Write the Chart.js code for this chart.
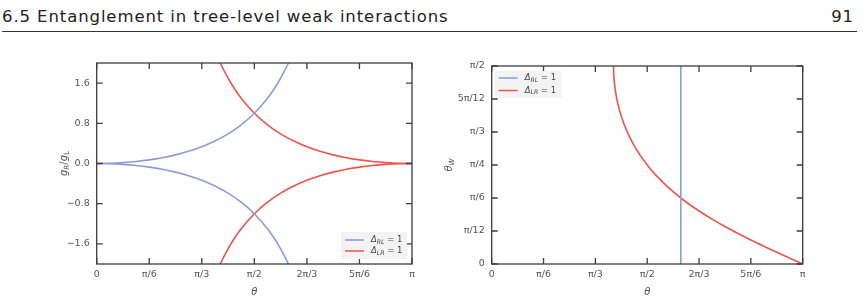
<!DOCTYPE html>
<html>
<head>
<meta charset="utf-8">
<script src="https://cdn.jsdelivr.net/npm/chart.js@4"></script>
<style>
  html, body { margin: 0; padding: 0; background: #fff; }
  body { width: 863px; height: 303px; position: relative; overflow: hidden; font-family: "DejaVu Sans", sans-serif; }
  #head { position: absolute; left: 2px; top: 9px; font-size: 16.5px; line-height: 1; letter-spacing: 0.9px; color: #222; white-space: nowrap; }
  #page { position: absolute; right: 9px; top: 9px; font-size: 16.5px; line-height: 1; letter-spacing: 0.9px; color: #222; }
  #rule { position: absolute; left: 2px; right: 6px; top: 31px; height: 1px; background: #333; }
  .box { position: absolute; top: 50px; width: 380px; height: 253px; }
</style>
</head>
<body>
<div id="head">6.5 Entanglement in tree-level weak interactions</div>
<div id="page">91</div>
<div id="rule"></div>
<div class="box" style="left:40px"><canvas id="left"></canvas></div>
<div class="box" style="left:440px"><canvas id="right"></canvas></div>
<script>
// x values are theta in degrees; ticks every pi/6
const xTickVals = [0, 30, 60, 90, 120, 150, 180];
const xTickLabels = ['0', 'π/6', 'π/3', 'π/2', '2π/3', '5π/6', 'π'];

// left panel: g_R/g_L
const leftYTicks = [-1.6, -0.8, 0, 0.8, 1.6];
const leftYLabels = ['−1.6', '−0.8', '0.0', '0.8', '1.6'];

const thetaRL = [0, 7.5, 15, 22.5, 30, 37.5, 45, 52.5, 60, 67.5, 75, 82.5, 90, 97.5, 101.25, 105, 109.47, 112.5];
const gRLup = [0, 0.0043, 0.0173, 0.0396, 0.0718, 0.1152, 0.1716, 0.2432, 0.3333, 0.4465, 0.5888, 0.7693, 1.0, 1.3, 1.4831, 1.6984, 2.0, 2.2398];
const gRLdown = [0, -0.0043, -0.0173, -0.0396, -0.0718, -0.1152, -0.1716, -0.2432, -0.3333, -0.4465, -0.5888, -0.7693, -1.0, -1.3, -1.4831, -1.6984, -2.0, -2.2398];

const thetaLR = [67.5, 70.53, 75, 78.75, 82.5, 90, 97.5, 105, 112.5, 120, 127.5, 135, 142.5, 150, 157.5, 165, 172.5, 180];
const gLRup = [2.2398, 2.0, 1.6984, 1.4831, 1.3, 1.0, 0.7693, 0.5888, 0.4465, 0.3333, 0.2432, 0.1716, 0.1152, 0.0718, 0.0396, 0.0173, 0.0043, 0];
const gLRdown = [-2.2398, -2.0, -1.6984, -1.4831, -1.3, -1.0, -0.7693, -0.5888, -0.4465, -0.3333, -0.2432, -0.1716, -0.1152, -0.0718, -0.0396, -0.0173, -0.0043, 0];

// right panel: theta_W in degrees, ticks every pi/12
const rightYTicks = [0, 15, 30, 45, 60, 75, 90];
const rightYLabels = ['0', 'π/12', 'π/6', 'π/4', 'π/3', '5π/12', 'π/2'];

const rlLineX = [109.47, 109.47];
const rlLineY = [0, 90];

const thetaW_x = [70.53, 70.6, 70.8, 71, 72, 73, 75, 78, 82.5, 90, 97.5, 105, 109.47, 112.5, 120, 127.5, 135, 142.5, 150, 157.5, 165, 172.5, 180];
const thetaW_y = [90, 86.83, 84.27, 82.45, 76.72, 72.86, 67.15, 60.83, 53.73, 45, 38.33, 32.86, 30, 28.19, 24.09, 20.41, 17.03, 13.89, 10.92, 8.09, 5.34, 2.66, 0];

const BLUE = '#8a9ed3';
const RED = '#ee534c';
const INK = '#555';

const pts = (xs, ys) => xs.map((x, i) => ({ x, y: ys[i] }));

// text with italic letters and subscripts, measured piece by piece
function drawRich(ctx, segs, size) {
  const parts = segs.map(s => {
    const fs = s.sub ? size * 0.72 : size;
    const font = (s.it ? 'italic ' : '') + fs + 'px "DejaVu Sans"';
    ctx.font = font;
    return { ...s, font, w: ctx.measureText(s.t).width };
  });
  const total = parts.reduce((a, p) => a + p.w, 0);
  return { total, draw(x, y) {
    let cx = x;
    parts.forEach(p => {
      ctx.font = p.font;
      ctx.fillText(p.t, cx, p.sub ? y + size * 0.28 : y);
      cx += p.w;
    });
  } };
}

const deltaLabel = {
  'RL': [{ t: 'Δ', it: true }, { t: 'RL', it: true, sub: true }, { t: ' = 1' }],
  'LR': [{ t: 'Δ', it: true }, { t: 'LR', it: true, sub: true }, { t: ' = 1' }]
};

const framePlugin = {
  id: 'frame',
  afterDraw(chart, args, opts) {
    const { ctx, chartArea: a, scales: { x, y } } = chart;
    const L = 6;
    ctx.save();
    ctx.strokeStyle = '#3c3c3c';
    ctx.lineWidth = 1.3;
    ctx.strokeRect(a.left, a.top, a.width, a.height);
    ctx.beginPath();
    x.ticks.forEach(t => {
      const px = x.getPixelForValue(t.value);
      ctx.moveTo(px, a.bottom); ctx.lineTo(px, a.bottom - L);
      ctx.moveTo(px, a.top); ctx.lineTo(px, a.top + L);
    });
    y.ticks.forEach(t => {
      const py = y.getPixelForValue(t.value);
      ctx.moveTo(a.left, py); ctx.lineTo(a.left + L, py);
      ctx.moveTo(a.right, py); ctx.lineTo(a.right - L, py);
    });
    ctx.stroke();

    // axis titles
    ctx.fillStyle = INK;
    ctx.textBaseline = 'middle';
    const xt = drawRich(ctx, [{ t: 'θ', it: true }], 10);
    xt.draw((a.left + a.right) / 2 - xt.total / 2, a.bottom + 28);
    const yt = drawRich(ctx, opts.ytitle, 10);
    ctx.save();
    ctx.translate(opts.ytitleX, (a.top + a.bottom) / 2);
    ctx.rotate(-Math.PI / 2);
    yt.draw(-yt.total / 2, 0);
    ctx.restore();

    // legend
    const lg = opts.legend;
    const bx = lg.corner === 'lr' ? a.right - lg.w - 5 : a.left + 3;
    const by = lg.corner === 'lr' ? a.bottom - lg.h - 5 : a.top + 5;
    ctx.fillStyle = '#f3f3f3';
    ctx.fillRect(bx, by, lg.w, lg.h);
    lg.items.forEach((it, i) => {
      const ry = by + lg.row0 + i * lg.gap;
      ctx.strokeStyle = it.color;
      ctx.lineWidth = 1.5;
      ctx.beginPath();
      ctx.moveTo(bx + 4, ry); ctx.lineTo(bx + 23, ry);
      ctx.stroke();
      ctx.fillStyle = '#444';
      const r = drawRich(ctx, deltaLabel[it.key], 8.5);
      r.draw(bx + 30, ry);
    });
    ctx.restore();
  }
};

function makeChart(id, datasets, yMin, yMax, yTicks, yLabels, dims, extra) {
  return new Chart(document.getElementById(id), {
    type: 'line',
    data: { datasets },
    options: {
      responsive: false,
      animation: false,
      devicePixelRatio: 1,
      layout: { padding: { top: dims.top, right: dims.right, left: 0, bottom: 0 } },
      elements: { point: { radius: 0 }, line: { borderWidth: 1.6, cubicInterpolationMode: 'monotone' } },
      plugins: { legend: { display: false }, tooltip: { enabled: false }, frame: extra },
      scales: {
        x: {
          type: 'linear', min: 0, max: 180,
          grid: { display: false, drawTicks: false }, border: { display: false },
          afterBuildTicks: s => { s.ticks = xTickVals.map(v => ({ value: v })); },
          afterFit: s => { s.height = 39; },
          ticks: { padding: 5, color: INK, font: { size: 9.5, family: 'DejaVu Sans' }, maxRotation: 0,
            callback: v => xTickLabels[xTickVals.indexOf(v)] }
        },
        y: {
          type: 'linear', min: yMin, max: yMax,
          grid: { display: false, drawTicks: false }, border: { display: false },
          afterBuildTicks: s => { s.ticks = yTicks.map(v => ({ value: v })); },
          afterFit: s => { s.width = dims.yw; },
          ticks: { padding: 7, color: INK, font: { size: 9.5, family: 'DejaVu Sans' },
            callback: v => yLabels[yTicks.indexOf(v)] }
        }
      }
    },
    plugins: [framePlugin]
  });
}

['left', 'right'].forEach(id => {
  const c = document.getElementById(id);
  c.width = 380; c.height = 253;
  c.style.width = '380px'; c.style.height = '253px';
});

makeChart('left', [
  { label: 'Δ_RL = 1', data: pts(thetaRL, gRLup), borderColor: BLUE },
  { label: 'Δ_RL = 1 (lower)', data: pts(thetaRL, gRLdown), borderColor: BLUE },
  { label: 'Δ_LR = 1', data: pts(thetaLR, gLRup), borderColor: RED },
  { label: 'Δ_LR = 1 (lower)', data: pts(thetaLR, gLRdown), borderColor: RED }
], -2, 2, leftYTicks, leftYLabels, { top: 13, right: 8, yw: 56.7 }, {
  ytitle: [{ t: 'g', it: true }, { t: 'R', it: true, sub: true }, { t: '/' }, { t: 'g', it: true }, { t: 'L', sub: true }],
  ytitleX: 24,
  legend: { corner: 'lr', w: 66, h: 27, row0: 8, gap: 11,
    items: [{ key: 'RL', color: BLUE }, { key: 'LR', color: RED }] }
});

makeChart('right', [
  { label: 'Δ_RL = 1', data: pts(rlLineX, rlLineY), borderColor: BLUE, cubicInterpolationMode: 'default', tension: 0 },
  { label: 'Δ_LR = 1', data: pts(thetaW_x, thetaW_y), borderColor: RED }
], 0, 90, rightYTicks, rightYLabels, { top: 16, right: 17.3, yw: 51.7 }, {
  ytitle: [{ t: 'θ', it: true }, { t: 'W', it: true, sub: true }],
  ytitleX: 9,
  legend: { corner: 'ul', w: 67, h: 27, row0: 7, gap: 12.5,
    items: [{ key: 'RL', color: BLUE }, { key: 'LR', color: RED }] }
});
</script>
</body>
</html>
